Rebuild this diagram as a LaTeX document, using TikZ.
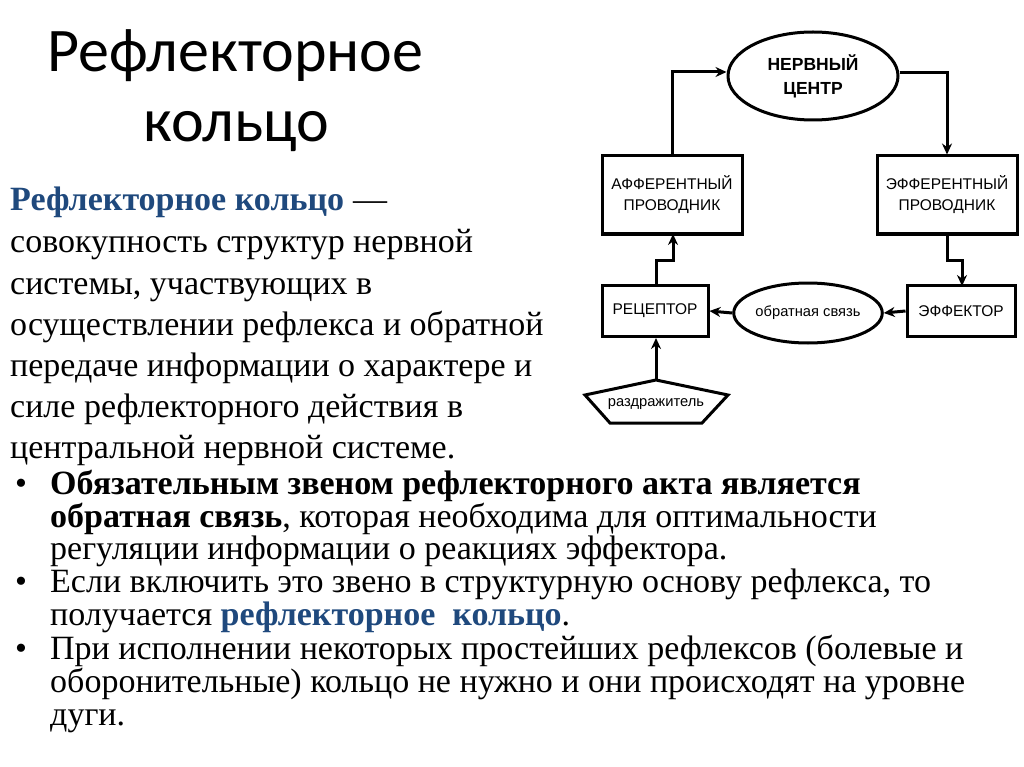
\documentclass[tikz,border=0pt]{standalone}
\usepackage{fontspec}
\setmainfont{Liberation Serif}
\newfontfamily\dsans{Liberation Sans}
\newfontfamily\tsans{Carlito}
\usetikzlibrary{arrows.meta,shapes.geometric}
\definecolor{tblue}{RGB}{31,73,125}
\begin{document}
\begin{tikzpicture}[x=1pt,y=-1pt,
  box/.style={draw,line width=3pt,align=center,font=\dsans\fontsize{15.5}{21}\selectfont,inner sep=0},
  conn/.style={line width=3pt,-{Stealth[length=11pt,width=10pt]}},
  txt/.style={anchor=base west,inner sep=0,font=\fontsize{34}{40}\selectfont},
  btxt/.style={anchor=base west,inner sep=0,font=\fontsize{34}{40}\selectfont}]
\useasboundingbox (0,0) rectangle (1024,767);
% title
\node[anchor=base west,inner sep=0,font=\tsans\fontsize{62}{70}\selectfont] (t1) at (47,72) {Рефлекторное};
\node[anchor=base west,inner sep=0,font=\tsans\fontsize{62}{70}\selectfont] (t2) at (143,142) {кольцо};
% diagram
\node[draw,ellipse,line width=3pt,minimum width=170pt,minimum height=88pt,inner sep=0,align=center,font=\dsans\bfseries\fontsize{17.5}{24}\selectfont] (nc) at (813,76) {НЕРВНЫЙ\\ЦЕНТР};
\node[box,minimum width=140pt,minimum height=78pt] (aff) at (672,195) {АФФЕРЕНТНЫЙ\\ПРОВОДНИК};
\node[box,minimum width=140pt,minimum height=78pt] (eff) at (947,195) {ЭФФЕРЕНТНЫЙ\\ПРОВОДНИК};
\node[box,minimum width=106pt,minimum height=51pt] (rec) at (655,311) {РЕЦЕПТОР};
\node[box,minimum width=108pt,minimum height=51pt] (efr) at (961,311) {ЭФФЕКТОР};
\node[draw,ellipse,line width=3pt,minimum width=129pt,minimum height=60pt,inner sep=0,font=\dsans\fontsize{14.7}{18}\selectfont] (fb) at (808,313) {обратная связь};
\draw[line width=3pt] (656,380) -- (728,395) -- (702,423) -- (610,423) -- (585,395) -- cycle;
\node[font=\dsans\fontsize{14.7}{18}\selectfont,inner sep=0] (rz) at (656,404) {раздражитель};
\coordinate (rzt) at (656,380);
\draw[conn] (aff.north) -- (672,72) -- (nc.west |- 0,72);
\draw[conn] (nc.east |- 0,73) -- (947,73) -- (eff.north);
\draw[conn] (656,285) -- (656,260) -- (673,260) -- (673,234);
\draw[conn] (947,234) -- (947,260) -- (962,260) -- (962,286);
\draw[conn] (efr.west) -- (fb.east);
\draw[conn] (fb.west) -- (rec.east);
\draw[conn] (rzt) -- (rec.south -| rzt);
% paragraph
\node[txt,font=\bfseries\fontsize{34}{40}\selectfont,text=tblue] (p1) at (10,211) {Рефлекторное кольцо};
\node[txt,anchor=base west] (p1b) at (p1.base east) {\ —};
\node[txt] (p2) at (10,252) {совокупность структур нервной};
\node[txt] (p3) at (10,294) {системы, участвующих в};
\node[txt] (p4) at (10,335) {осуществлении рефлекса и обратной};
\node[txt] (p5) at (10,376) {передаче информации о характере и};
\node[txt] (p6) at (10,417) {силе рефлекторного действия в};
\node[txt] (p7) at (10,458) {центральной нервной системе.};
% bullets
\node[btxt] (b1) at (15,494) {•};
\node[btxt] (l1) at (50,494) {\textbf{Обязательным звеном рефлекторного акта является}};
\node[btxt] (l2) at (50,527) {\textbf{обратная связь}, которая необходима для оптимальности};
\node[btxt] (l3) at (50,559) {регуляции информации о реакциях эффектора.};
\node[btxt] (b2) at (15,592) {•};
\node[btxt] (l4) at (50,592) {Если включить это звено в структурную основу рефлекса, то};
\node[btxt] (l5) at (50,625) {получается \textcolor{tblue}{\textbf{рефлекторное\ \ кольцо}}.};
\node[btxt] (b3) at (15,659) {•};
\node[btxt] (l6) at (50,659) {При исполнении некоторых простейших рефлексов (болевые и};
\node[btxt] (l7) at (50,692) {оборонительные) кольцо не нужно и они происходят на уровне};
\node[btxt] (l8) at (50,725) {дуги.};
\end{tikzpicture}
\end{document}
